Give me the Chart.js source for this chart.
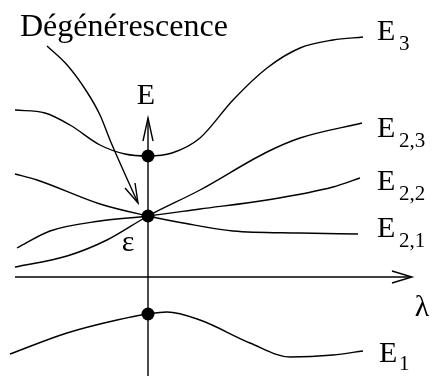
<!DOCTYPE html>
<html>
<head>
<meta charset="utf-8">
<script src="https://cdn.jsdelivr.net/npm/chart.js@4/dist/chart.umd.min.js"></script>
<style>
  html, body { margin: 0; padding: 0; background: #fff; }
  #wrap { width: 432px; height: 376px; position: relative; }
</style>
</head>
<body>
<div id="wrap"><canvas id="levels"></canvas></div>
<script>
// energy levels as [lambda, E] pairs
const levelE3  = [[-133,167],[-103,164],[-78,152],[-48,132],[-23,123],[0,121],[24,124],[52,139],[85,177],[119,209],[152,229],[185,237],[215,240]];
const levelE23 = [[-133,10],[-81,21],[-41,37],[0,61],[52,87],[119,125],[152,139],[214,154]];
const levelE22 = [[-131,29],[-98,46],[-48,56],[0,61],[52,68],[119,77],[185,90],[212,99]];
const levelE21 = [[-133,103],[-111,97],[-48,73],[0,61],[35,54],[85,46],[152,44],[210,43]];
const levelE1  = [[-138,-77],[-81,-56],[-31,-43],[0,-37],[19,-35],[52,-43],[102,-66],[142,-80],[185,-78],[215,-74]];

// marked points on the E axis (lambda = 0)
const markedE = [121, 61, -37];

// axes and the pointer to the crossing
const axisLambda = [[-133,0],[263,0]];
const headLambda = [[244,6],[264,0],[244,-6]];
const axisE = [[0,159],[0,-99]];
const headE = [[-5,136],[0,159],[5,136]];
const pointer = [[-101,231],[-80,211],[-61,185],[-48,162],[-38,137],[-24,105],[-10,74]];
const pointerHead = [[-13,94],[-10,74],[-23,89]];

const toXY = arr => arr.map(p => ({ x: p[0], y: p[1] }));

function curve(pts) {
  return { data: toXY(pts), borderColor: '#000', borderWidth: 1.4, pointRadius: 0,
           cubicInterpolationMode: 'monotone', fill: false };
}
function straight(pts) {
  return { data: toXY(pts), borderColor: '#000', borderWidth: 1.4, pointRadius: 0,
           tension: 0, fill: false };
}

const serif = '"Liberation Serif", "DejaVu Serif", serif';
const labels = [
  { t: 'Dégénérescence', x: -128, y: 241, size: 32, align: 'left' },
  { t: 'E', x: -2, y: 173, size: 30, align: 'center' },
  { t: 'E', x: 229, y: 237, size: 30, align: 'left' },
  { t: '3', x: 251, y: 227, size: 21, align: 'left' },
  { t: 'E', x: 229, y: 140, size: 30, align: 'left' },
  { t: '2,3', x: 251, y: 130, size: 21, align: 'left' },
  { t: 'E', x: 229, y: 87, size: 30, align: 'left' },
  { t: '2,2', x: 251, y: 77, size: 21, align: 'left' },
  { t: 'E', x: 229, y: 40, size: 30, align: 'left' },
  { t: '2,1', x: 251, y: 30, size: 21, align: 'left' },
  { t: 'E', x: 231, y: -85, size: 30, align: 'left' },
  { t: '1', x: 251, y: -93, size: 21, align: 'left' },
  { t: 'λ', x: 274, y: -39, size: 30, align: 'center' },
  { t: 'ε', x: -20, y: 26, size: 30, align: 'center' },
];

const textPlugin = {
  id: 'levelText',
  afterDatasetsDraw(chart) {
    const { ctx, scales: { x, y } } = chart;
    ctx.save();
    ctx.fillStyle = '#000';
    ctx.textBaseline = 'alphabetic';
    labels.forEach(l => {
      ctx.font = l.size + 'px ' + serif;
      ctx.textAlign = l.align;
      ctx.fillText(l.t, x.getPixelForValue(l.x), y.getPixelForValue(l.y));
    });
    ctx.restore();
  }
};

new Chart(document.getElementById('levels'), {
  type: 'line',
  data: {
    datasets: [
      curve(levelE3), curve(levelE23), curve(levelE22), curve(levelE21), curve(levelE1),
      straight(axisLambda), straight(headLambda), straight(axisE), straight(headE),
      curve(pointer), straight(pointerHead),
      { data: markedE.map(v => ({ x: 0, y: v })), showLine: false,
        pointRadius: 6.5, pointBackgroundColor: '#000', pointBorderColor: '#000', pointBorderWidth: 0 },
    ]
  },
  options: {
    responsive: true,
    maintainAspectRatio: false,
    animation: false,
    layout: { padding: 0, autoPadding: false },
    plugins: { legend: { display: false }, tooltip: { enabled: false } },
    scales: {
      x: { type: 'linear', min: -148, max: 284, display: false },
      y: { type: 'linear', min: -99, max: 277, display: false },
    },
    elements: { line: { borderCapStyle: 'butt' } }
  },
  plugins: [textPlugin]
});
</script>
</body>
</html>
